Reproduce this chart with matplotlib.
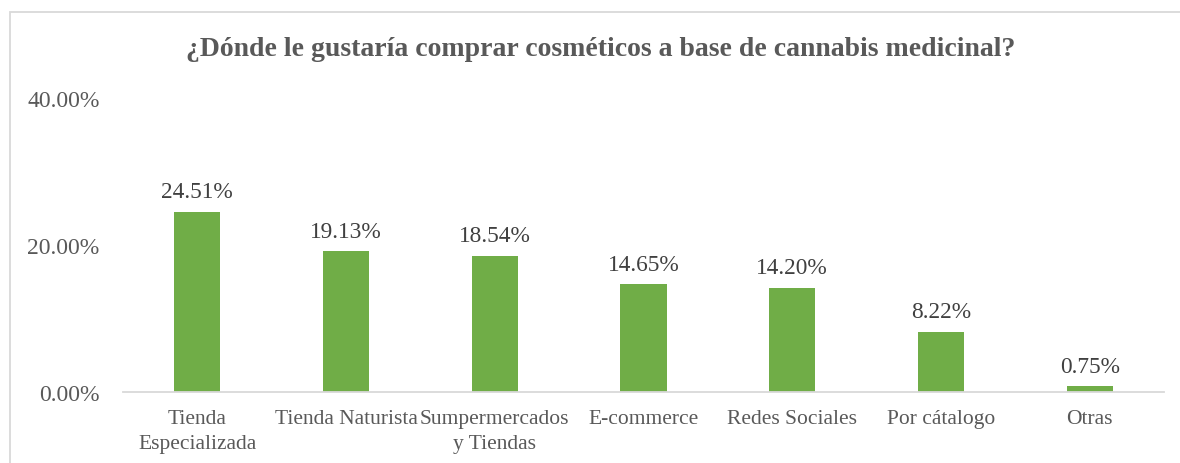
import matplotlib
matplotlib.use("Agg")
import matplotlib.pyplot as plt
from matplotlib.patches import Rectangle

# Survey results: preferred place to buy medicinal-cannabis cosmetics
categories = ["Tienda\nEspecializada", "Tienda Naturista", "Sumpermercados\ny Tiendas",
              "E-commerce", "Redes Sociales", "Por cátalogo", "Otras"]
values = [24.51, 19.13, 18.54, 14.65, 14.20, 8.22, 0.75]
yticks = [0, 20, 40]
title = "¿Dónde le gustaría comprar cosméticos a base de cannabis medicinal?"

plt.rcParams["font.family"] = ["Liberation Serif", "DejaVu Serif"]

W, H = 1180, 464
fig = plt.figure(figsize=(W / 100, H / 100), dpi=100)
fig.patch.set_facecolor("white")

# chart-area frame (runs past the right and bottom edges)
fig.patches.append(Rectangle((10 / W, -0.1), 1.2, 1 - 13 / H + 0.1,
                             transform=fig.transFigure, fill=False,
                             edgecolor="#d9d9d9", linewidth=1.3))

ax = fig.add_axes([123 / W, 1 - 393 / H, (1164 - 123) / W, (393 - 99) / H])
x = range(len(categories))
bars = ax.bar(x, values, width=0.31, color="#70ad47")
ax.set_xlim(-0.5, len(categories) - 0.5)
ax.set_ylim(0, 40)

ax.set_yticks(yticks)
ax.set_yticklabels([f"{v:.2f}%" for v in yticks], fontsize=17, color="#595959")
ax.set_xticks(list(x))
ax.set_xticklabels(categories, fontsize=15.5, color="#595959", linespacing=1.45)
ax.tick_params(axis="y", length=0, pad=17)
ax.tick_params(axis="x", length=0, pad=12)

for s in ["top", "right", "left"]:
    ax.spines[s].set_visible(False)
ax.spines["bottom"].set_color("#d9d9d9")
ax.spines["bottom"].set_linewidth(1.3)

for b, v in zip(bars, values):
    ax.annotate(f"{v:.2f}%", (b.get_x() + b.get_width() / 2, v),
                xytext=(0, 7), textcoords="offset points",
                ha="center", va="bottom", fontsize=16.8, color="#404040")

fig.text(601 / W, 1 - 50 / H, title, ha="center", va="center",
         fontsize=20, fontweight="bold", color="#595959")

fig.savefig("out.png", dpi=100)
